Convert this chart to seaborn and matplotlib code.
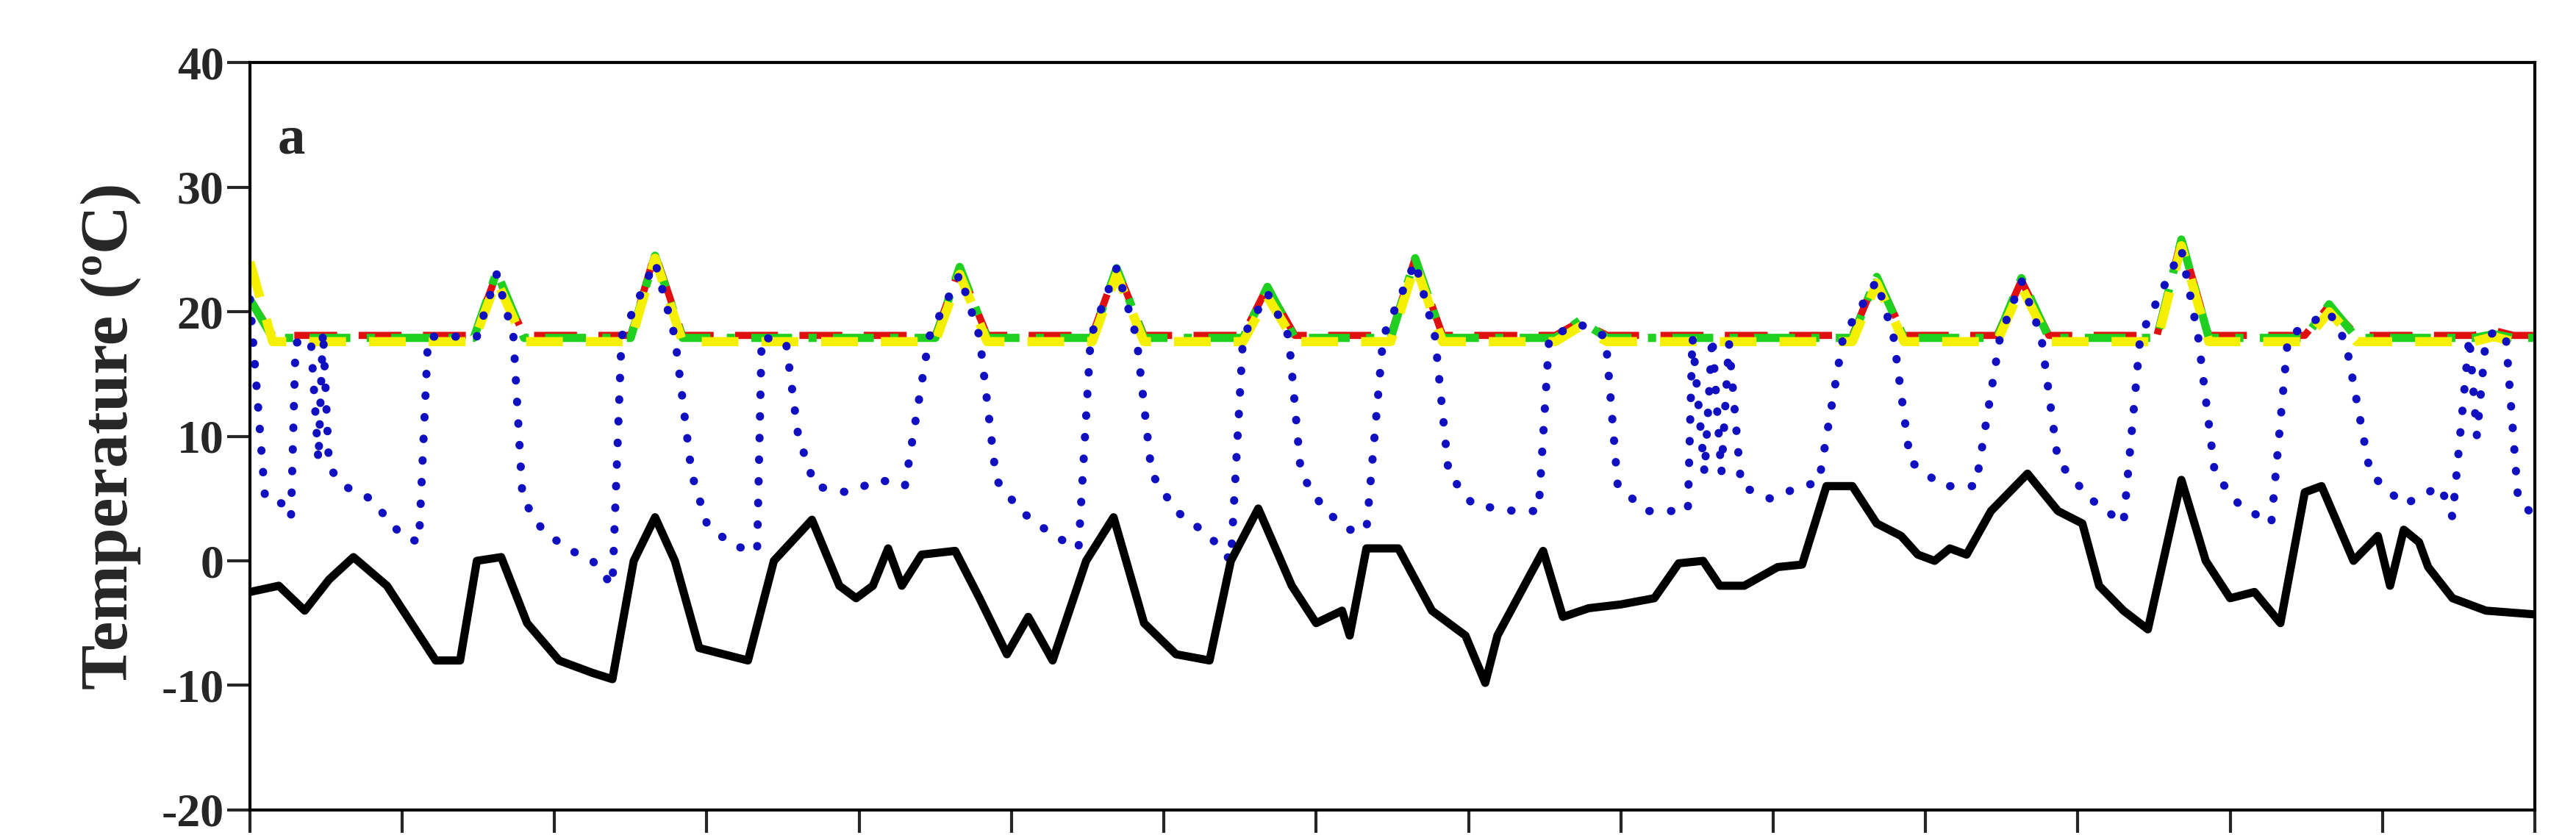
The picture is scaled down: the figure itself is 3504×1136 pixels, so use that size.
import matplotlib
matplotlib.use("Agg")
import matplotlib.pyplot as plt
import seaborn as sns
import pandas as pd

sns.set_style("ticks")
plt.rcParams['font.family'] = ['Liberation Serif', 'DejaVu Serif']
plt.rcParams['font.weight'] = 'bold'
plt.rcParams['axes.unicode_minus'] = False

# Outdoor air temperature (black solid)
outdoor_days = [0, 0.19, 0.36, 0.52, 0.68, 0.90, 1.06, 1.22, 1.38, 1.49, 1.65, 1.82, 2.03, 2.25, 2.38, 2.52, 2.66,
                2.79, 2.95, 3.27, 3.44, 3.69, 3.87, 3.98, 4.09, 4.19, 4.28, 4.41, 4.63, 4.79, 4.97, 5.11, 5.27, 5.49,
                5.67, 5.87, 6.08, 6.30, 6.44, 6.62, 6.84, 7.00, 7.17, 7.22, 7.33, 7.54, 7.76, 7.98, 8.11, 8.19, 8.41,
                8.49, 8.62, 8.79, 9.00, 9.22, 9.38, 9.54, 9.65, 9.81, 10.03, 10.19, 10.35, 10.52, 10.68, 10.84, 10.95,
                11.06, 11.16, 11.27, 11.43, 11.67, 11.87, 12.03, 12.14, 12.30, 12.46, 12.68, 12.84, 13.00, 13.16,
                13.33, 13.49, 13.60, 13.81, 13.97, 14.05, 14.14, 14.24, 14.30, 14.46, 14.68, 15.0]
outdoor_temp = [-2.5, -2, -4, -1.5, 0.3, -2, -5, -8, -8, 0, 0.3, -5, -8, -9, -9.5, 0, 3.5,
                0, -7, -8, 0, 3.3, -2, -3, -2, 1, -2, 0.5, 0.8, -3, -7.5, -4.5, -8, 0,
                3.5, -5, -7.5, -8, 0, 4.2, -2, -5, -4, -6, 1, 1, -4, -6, -9.8, -6, -1,
                0.8, -4.5, -3.8, -3.5, -3, -0.2, 0, -2, -2, -0.5, -0.3, 6, 6, 3, 2, 0.5,
                0, 1, 0.5, 4, 7, 4, 3, -2, -4, -5.5, 6.5, 0, -3, -2.5,
                -5, 5.5, 6, 0, 2, -2, 2.5, 1.5, -0.5, -3, -4, -4.3]

# Unheated greenhouse (blue dotted)
unheated_days = [0.00, 0.10, 0.24, 0.27, 0.30, 0.40, 0.45, 0.48, 0.52, 0.62, 0.79, 1.00, 1.11, 1.17, 1.49, 1.62,
                 1.73, 1.79, 1.92, 2.08, 2.25, 2.38, 2.44, 2.66, 2.79, 2.90, 3.00, 3.17, 3.33, 3.36, 3.52, 3.60,
                 3.71, 3.92, 4.14, 4.30, 4.46, 4.66, 4.79, 4.90, 5.06, 5.28, 5.44, 5.52, 5.69, 5.82, 5.92, 6.08,
                 6.30, 6.44, 6.52, 6.68, 6.82, 6.90, 7.06, 7.22, 7.33, 7.44, 7.65, 7.78, 7.87, 8.03, 8.30, 8.46,
                 8.53, 8.73, 8.90, 8.98, 9.17, 9.44, 9.47, 9.55, 9.60, 9.66, 9.71, 9.79, 9.98, 10.19, 10.30, 10.46,
                 10.68, 10.79, 10.90, 11.11, 11.33, 11.49, 11.63, 11.76, 11.87, 12.08, 12.30, 12.41, 12.68, 12.79,
                 12.90, 13.06, 13.27, 13.38, 13.65, 13.76, 13.92, 14.14, 14.38, 14.46, 14.57, 14.62, 14.68, 14.76,
                 14.81, 14.89, 15.00]
unheated_temp = [21, 5, 4.5, 3.5, 17.5, 17.8, 8, 18.5, 7.5, 6, 5, 2, 1.5, 18, 18, 23,
                 18, 5, 2.5, 1, 0, -2, 18, 24, 18, 7, 3, 1.2, 0.8, 18, 17.5, 10,
                 6, 5.5, 6.5, 6, 18, 23, 18, 6.5, 4, 2, 1, 18, 23.5, 18, 7, 4,
                 2, 0, 18, 21.5, 18, 7, 4, 2.5, 2.5, 18, 24, 18, 7, 4.5, 4, 4,
                 18, 19, 18, 6, 4, 4, 18, 7, 18, 7, 17.5, 6, 5, 6, 6.3, 18,
                 22.5, 18, 8, 6, 6, 18, 22.5, 18, 8, 5, 3, 18, 25, 18,
                 7, 4.5, 3, 18, 20, 17.5, 7, 4.5, 6, 3.5, 18, 10, 18, 18.5,
                 18, 5, 3.5]

# Heated greenhouses (red dashed, green dash-dot, yellow dashed)
heated_days = [0, 0.15, 1.47, 1.62, 1.80, 2.50, 2.66, 2.84, 4.50, 4.66, 4.84, 5.53, 5.69, 5.87, 6.52, 6.68, 6.86,
               7.49, 7.65, 7.83, 8.57, 8.73, 8.91, 10.52, 10.68, 10.86, 11.47, 11.63, 11.81, 12.52, 12.68, 12.86,
               13.49, 13.65, 13.83, 14.60, 14.73, 14.86, 15.0]
red_temp = [21, 18.1, 18.1, 23, 18.1, 18.1, 24.7, 18.1, 18.1, 23.5, 18.1, 18.1, 23.5, 18.1, 18.1, 22, 18.1,
            18.1, 24.3, 18.1, 18.1, 19.2, 18.1, 18.1, 22.8, 18.1, 18.1, 22.5, 18.1, 18.1, 25.8, 18.1,
            18.1, 20.5, 18.1, 18.1, 18.5, 18.1, 18.1]
green_temp = [21, 17.9, 17.9, 23.2, 17.9, 17.9, 24.5, 17.9, 17.9, 23.6, 17.9, 17.9, 23.5, 17.9, 17.9, 22, 17.9,
              17.9, 24.3, 17.9, 17.9, 19.3, 17.9, 17.9, 22.8, 17.9, 17.9, 22.7, 17.9, 17.9, 25.8, 17.9,
              17.9, 20.6, 17.9, 17.9, 18.2, 17.9, 17.9]
yellow_temp = [24, 17.6, 17.6, 22.5, 17.6, 17.6, 24.3, 17.6, 17.6, 23, 17.6, 17.6, 23, 17.6, 17.6, 21.2, 17.6,
               17.6, 23.8, 17.6, 17.6, 18.8, 17.6, 17.6, 22.3, 17.6, 17.6, 22, 17.6, 17.6, 25.3, 17.6,
               17.6, 20, 17.6, 17.6, 18.0, 17.6, 17.6]

fig = plt.figure(figsize=(35.04, 11.36), dpi=100)
ax = fig.add_axes([0.097, 0.03, 0.887, 0.895])

dot_style = dict(color='#1010c0', lw=8, linestyle=(0, (0.05, 2.6)), dash_capstyle='round')
sns.lineplot(x=heated_days, y=red_temp, ax=ax, color='#e01010', lw=7, linestyle=(0, (6, 3)))
sns.lineplot(x=heated_days, y=green_temp, ax=ax, color='#20d020', lw=8, linestyle=(0, (5, 2, 1, 2)))
sns.lineplot(x=heated_days, y=yellow_temp, ax=ax, color='#f5f000', lw=9, linestyle=(0, (4, 2.5)))
sns.lineplot(x=unheated_days, y=unheated_temp, ax=ax, **dot_style)
sns.lineplot(x=outdoor_days, y=outdoor_temp, ax=ax, color='black', lw=8)

ax.set_xlim(0, 15)
ax.set_ylim(-20, 40)
ax.set_xticks(range(16))
ax.set_xticklabels([])
ax.set_yticks(range(-20, 41, 10))
ax.tick_params(axis='both', direction='out', length=22, width=3, labelsize=46)
for lab in ax.get_yticklabels():
    lab.set_fontweight('bold')
for s in ax.spines.values():
    s.set_linewidth(3)
    s.set_color('black')
ax.set_ylabel('Temperature (ºC)', fontsize=66, fontweight='bold', labelpad=20)
ax.text(0.012, 0.93, 'a', transform=ax.transAxes, fontsize=54, fontweight='bold', va='top')

fig.savefig('out.png', dpi=100)
